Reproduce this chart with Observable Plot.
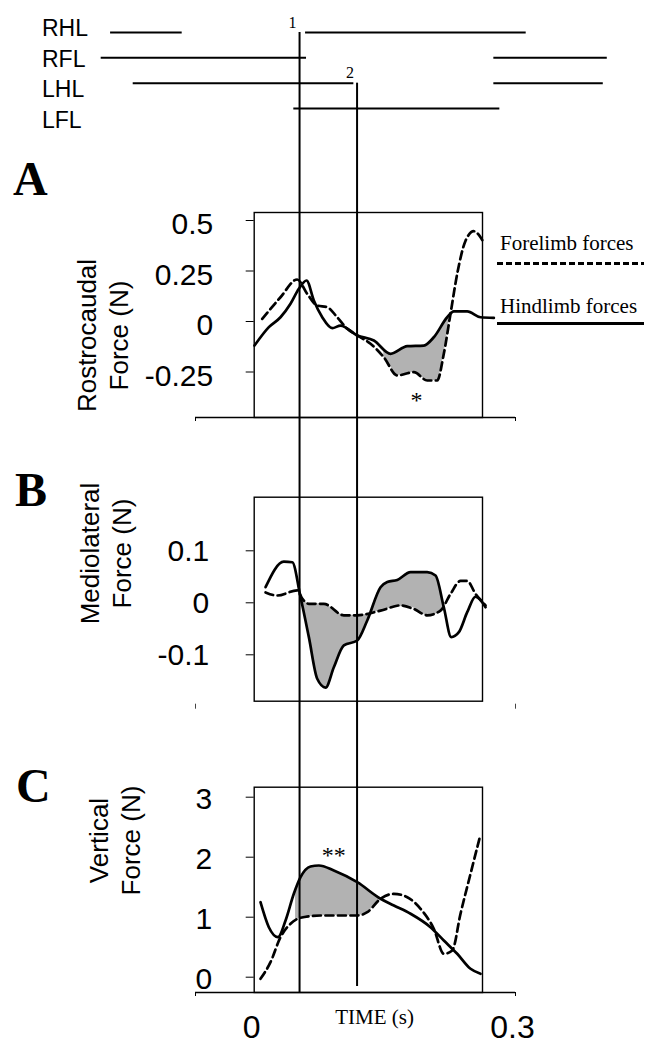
<!DOCTYPE html>
<html>
<head>
<meta charset="utf-8">
<script src="https://cdn.jsdelivr.net/npm/d3@7"></script>
<script src="https://cdn.jsdelivr.net/npm/@observablehq/plot@0.6"></script>
<style>
  html, body { margin: 0; padding: 0; background: #fff; }
  #fig { position: relative; width: 656px; height: 1050px; overflow: hidden; background: #fff; }
  #fig > svg { position: absolute; left: 0; }
  .letter { position: absolute; font-family: "Liberation Serif", "Times New Roman", serif; font-weight: bold; font-size: 48px; line-height: 48px; }
  .limbs { position: absolute; left: 42px; top: 13px; font-family: "Liberation Sans", Arial, sans-serif; font-size: 23px; line-height: 30.5px; }
  .legtext { position: absolute; font-family: "Liberation Serif", "Times New Roman", serif; font-size: 21px; line-height: 24px; white-space: nowrap; }
  .legsolid { position: absolute; height: 2.6px; background: #000; }
  .legdash { position: absolute; height: 2.6px; background: repeating-linear-gradient(to right, #000 0 6px, transparent 6px 9px); }
</style>
</head>
<body>
<div id="fig"></div>
<script>
// ---------------- DATA ----------------
// Footfall (stance) diagram
const limbs = ["RHL", "RFL", "LHL", "LFL"];
const stanceLimb  = ["RHL", "RHL", "RFL", "RFL", "LHL", "LHL", "LFL"];
const stanceStart = [-0.162, 0.0621, -0.1728, 0.2785, -0.136, 0.2785, 0.0486];
const stanceEnd   = [-0.0797, 0.3157, 0.0632, 0.4089, 0.1176, 0.4043, 0.2854];

// Event markers (time, s)
const eventTimes  = [0.0552, 0.1213];
const eventLabels = ["1", "2"];
const eventLimb   = ["RHL", "LHL"];

// Panel A: rostrocaudal force (N)
const hindTimeA  = [0.0034, 0.0199, 0.0333, 0.0448, 0.0544, 0.0632, 0.0716, 0.0813, 0.0928, 0.1023, 0.1215, 0.1406, 0.1598, 0.179, 0.198, 0.2095, 0.2249, 0.2325, 0.2479, 0.2632, 0.2785];
const hindForceA = [-0.119, -0.028, 0.021, 0.088, 0.162, 0.203, 0.104, 0.021, -0.033, -0.020, -0.069, -0.094, -0.16, -0.122, -0.119, -0.078, 0.021, 0.05, 0.05, 0.021, 0.018];
const foreTimeA  = [0.0123, 0.0333, 0.0525, 0.064, 0.0755, 0.087, 0.0985, 0.11, 0.1215, 0.1368, 0.1521, 0.1675, 0.1866, 0.2019, 0.2134, 0.221, 0.2287, 0.2364, 0.246, 0.2555, 0.2632, 0.267];
const foreForceA = [0.013, 0.12, 0.208, 0.137, 0.079, 0.071, 0.021, -0.036, -0.069, -0.11, -0.177, -0.267, -0.251, -0.292, -0.292, -0.16, 0.038, 0.236, 0.40, 0.447, 0.417, 0.388];
const shadeTimeA = [0.152, 0.160, 0.1675, 0.179, 0.1866, 0.198, 0.202, 0.2095, 0.2134, 0.221, 0.227];
const shadeHindA = [-0.132, -0.16, -0.145, -0.122, -0.121, -0.119, -0.108, -0.078, -0.06, -0.015, 0.03];
const shadeForeA = [-0.177, -0.224, -0.267, -0.258, -0.251, -0.282, -0.292, -0.292, -0.292, -0.16, -0.005];
const ticksA = [-0.25, 0, 0.25, 0.5];

// Panel B: mediolateral force (N)
const hindTimeB  = [0.0161, 0.0371, 0.0468, 0.0563, 0.0659, 0.0755, 0.0851, 0.0946, 0.1061, 0.1215, 0.133, 0.1483, 0.156, 0.1675, 0.1828, 0.2019, 0.2115, 0.221, 0.2295, 0.2383, 0.2479, 0.2575, 0.269];
const hindForceB = [0.030, 0.079, 0.078, 0.011, -0.066, -0.146, -0.163, -0.124, -0.082, -0.0725, -0.034, 0.030, 0.040, 0.044, 0.059, 0.059, 0.0525, -0.0085, -0.066, -0.0565, -0.018, 0.012, -0.0085];
const foreTimeB  = [0.0161, 0.0295, 0.0525, 0.0583, 0.0659, 0.0831, 0.1061, 0.1215, 0.1483, 0.1713, 0.1866, 0.2019, 0.2172, 0.2287, 0.2402, 0.2479, 0.2575, 0.269];
const foreForceB = [0.020, 0.014, 0.024, 0.008, -0.002, -0.002, -0.024, -0.024, -0.015, -0.005, -0.012, -0.024, -0.015, 0.017, 0.042, 0.042, 0.017, -0.005];
const shadeTimeB = [0.0583, 0.0659, 0.0755, 0.0851, 0.0946, 0.1061, 0.1215, 0.133, 0.1483, 0.156, 0.1675, 0.1828, 0.2019, 0.2115, 0.2195];
const shadeHindB = [0.004, -0.066, -0.146, -0.163, -0.124, -0.082, -0.0725, -0.034, 0.030, 0.040, 0.044, 0.059, 0.059, 0.0525, 0.001];
const shadeForeB = [0.008, -0.002, -0.002, -0.004, -0.012, -0.024, -0.024, -0.022, -0.015, -0.012, -0.007, -0.008, -0.024, -0.022, -0.01];
const ticksB = [-0.1, 0, 0.1];

// Panel C: vertical force (N)
const hindTimeC  = [0.0103, 0.0199, 0.0303, 0.0391, 0.0486, 0.0563, 0.0678, 0.0774, 0.0946, 0.1215, 0.1483, 0.1636, 0.1828, 0.2057, 0.221, 0.2364, 0.2517, 0.2632];
const hindForceC = [1.25, 0.833, 0.667, 0.945, 1.39, 1.667, 1.845, 1.862, 1.778, 1.583, 1.307, 1.195, 1.057, 0.833, 0.612, 0.39, 0.14, 0.057];
const foreTimeC  = [0.0103, 0.0218, 0.0333, 0.0448, 0.0563, 0.0793, 0.1023, 0.1215, 0.133, 0.1483, 0.1636, 0.179, 0.1943, 0.2095, 0.221, 0.2307, 0.2402, 0.2517, 0.2624];
const foreForceC = [-0.027, 0.25, 0.667, 0.89, 0.99, 1.028, 1.028, 1.028, 1.083, 1.307, 1.39, 1.333, 1.14, 0.807, 0.39, 0.445, 1.057, 1.723, 2.333];
const shadeTimeC = [0.0506, 0.0563, 0.0678, 0.0774, 0.0946, 0.1085, 0.1215, 0.133, 0.146];
const shadeHindC = [1.46, 1.667, 1.845, 1.862, 1.778, 1.69, 1.583, 1.46, 1.33];
const shadeForeC = [0.95, 0.99, 1.01, 1.028, 1.028, 1.028, 1.028, 1.083, 1.28];
const ticksC = [0, 1, 2, 3];
const timeTickLabels = [0, 0.3];

// Significance annotations
const starText = ["*", "**"];
const starTime = [0.1897, 0.0946];
const starForce = [-0.358, 2.14];

// ---------------- LAYOUT / STYLE ----------------
const W = 656;
const xDomain = [-0.0644, 0.3034];
const xRange = [195, 515];
const frameLeft = 253.7, frameRight = 482;
const GRAY = "#b2b2b2";
const SANS = '"Liberation Sans", Arial, sans-serif';
const SERIF = '"Liberation Serif", "Times New Roman", serif';
const curve = "monotone-x";
const base = {fontFamily: SANS, overflow: "visible", background: "transparent", color: "#000"};
const fmt = d => String(d);
const inv = (domain, range) => d3.scaleLinear().domain(domain).range(range).invert;
const fig = document.getElementById("fig");
const place = (svg, top) => { svg.style.top = top + "px"; fig.appendChild(svg); };

// ---------------- GAIT DIAGRAM ----------------
const gaitH = 150;
const gaitY = {domain: [0, 3], range: [32, 108]};
const gaitInv = inv(gaitY.domain, gaitY.range);
const limbIndex = l => limbs.indexOf(l);
place(Plot.plot({
  width: W, height: gaitH, margin: 0,
  x: {domain: xDomain, range: xRange, axis: null},
  y: {...gaitY, axis: null},
  style: base,
  marks: [
    Plot.ruleY(stanceLimb, {y: limbIndex, x1: stanceStart, x2: stanceEnd, strokeWidth: 2}),
    Plot.ruleX(eventTimes, {x: d => d, y1: eventLimb.map(limbIndex), y2: gaitInv(gaitH), strokeWidth: 2}),
    Plot.text(eventLabels, {x: eventTimes, y: eventLimb.map(limbIndex), text: d => d, dx: -7, dy: -10, fontFamily: SERIF, fontSize: 16})
  ]
}), 0);

// ---------------- PANEL A ----------------
{
  const h = 290, mt = 62, mb = 23;
  const yS = {domain: [-0.25, 0.5], range: [221.5, 70]};
  const iy = inv(yS.domain, yS.range);
  place(Plot.plot({
    width: W, height: h, marginLeft: frameLeft, marginRight: W - frameRight, marginTop: mt, marginBottom: mb,
    x: {domain: xDomain, range: xRange},
    y: yS,
    style: base,
    marks: [
      Plot.areaY(shadeTimeA, {x: shadeTimeA, y1: shadeForeA, y2: shadeHindA, fill: GRAY, curve}),
      Plot.frame({stroke: "#000", strokeWidth: 1.4}),
      Plot.line(foreTimeA, {x: foreTimeA, y: foreForceA, strokeWidth: 2.7, strokeDasharray: "8,4.5", curve}),
      Plot.line(hindTimeA, {x: hindTimeA, y: hindForceA, strokeWidth: 2.7, curve}),
      Plot.ruleX(eventTimes, {x: d => d, y1: iy(0), y2: iy(h), strokeWidth: 2}),
      Plot.axisY({ticks: ticksA, tickSize: 8, tickFormat: () => "", label: null}),
      Plot.axisY({ticks: ticksA, tickSize: 0, tickPadding: 41, tickFormat: fmt, fontSize: 30, dy: 4, label: null}),
      Plot.ruleY([iy(h - mb)], {x1: xDomain[0], x2: xDomain[1], strokeWidth: 1.4}),
      Plot.axisX({ticks: xDomain, tickSize: 4, tickFormat: () => "", label: null}),
      Plot.text(["Rostrocaudal\nForce (N)"], {frameAnchor: "left", textAnchor: "middle", lineAnchor: "middle", rotate: -90, dx: 101.5 - frameLeft, dy: 185 - (mt + h - mb) / 2, fontSize: 26, lineHeight: 1.23}),
      Plot.text([starText[0]], {x: [starTime[0]], y: [starForce[0]], text: d => d, fontFamily: SERIF, fontSize: 24, dy: 6})
    ]
  }), 150);
}

// ---------------- PANEL B ----------------
{
  const h = 290, mt = 56.7, mb = 29.3;
  const yS = {domain: [-0.1, 0.1], range: [214.3, 110.3]};
  const iy = inv(yS.domain, yS.range);
  place(Plot.plot({
    width: W, height: h, marginLeft: frameLeft, marginRight: W - frameRight, marginTop: mt, marginBottom: mb,
    x: {domain: xDomain, range: xRange},
    y: yS,
    style: base,
    marks: [
      Plot.areaY(shadeTimeB, {x: shadeTimeB, y1: shadeForeB, y2: shadeHindB, fill: GRAY, curve}),
      Plot.frame({stroke: "#000", strokeWidth: 1.4}),
      Plot.line(foreTimeB, {x: foreTimeB, y: foreForceB, strokeWidth: 2.7, strokeDasharray: "8,4.5", curve}),
      Plot.line(hindTimeB, {x: hindTimeB, y: hindForceB, strokeWidth: 2.7, curve}),
      Plot.ruleX(eventTimes, {x: d => d, y1: iy(0), y2: iy(h), strokeWidth: 2}),
      Plot.axisY({ticks: ticksB, tickSize: 8, tickFormat: () => "", label: null}),
      Plot.axisY({ticks: ticksB, tickSize: 0, tickPadding: 45, tickFormat: fmt, fontSize: 30, dy: 1, label: null}),
      Plot.axisX({ticks: xDomain, tickSize: 5, tickFormat: () => "", label: null, dy: 3, stroke: "#444"}),
      Plot.text(["Mediolateral\nForce (N)"], {frameAnchor: "left", textAnchor: "middle", lineAnchor: "middle", rotate: -90, dx: 104 - frameLeft, dy: 113 - (mt + h - mb) / 2, fontSize: 26, lineHeight: 1.23})
    ]
  }), 440);
}

// ---------------- PANEL C ----------------
{
  const h = 320, mt = 56.7, mb = 58;
  const yS = {domain: [0, 3], range: [246.7, 66.7]};
  const iy = inv(yS.domain, yS.range);
  const bottom = h - mb;
  const eventEndOffset = [1, -6];
  place(Plot.plot({
    width: W, height: h, marginLeft: frameLeft, marginRight: W - frameRight, marginTop: mt, marginBottom: mb,
    x: {domain: xDomain, range: xRange},
    y: yS,
    style: base,
    marks: [
      Plot.areaY(shadeTimeC, {x: shadeTimeC, y1: shadeForeC, y2: shadeHindC, fill: GRAY, curve}),
      Plot.frame({stroke: "#000", strokeWidth: 1.4}),
      Plot.line(foreTimeC, {x: foreTimeC, y: foreForceC, strokeWidth: 2.7, strokeDasharray: "8,4.5", curve}),
      Plot.line(hindTimeC, {x: hindTimeC, y: hindForceC, strokeWidth: 2.7, curve}),
      Plot.ruleX(eventTimes, {x: d => d, y1: iy(0), y2: eventEndOffset.map(o => iy(bottom + o)), strokeWidth: 2}),
      Plot.axisY({ticks: ticksC, tickSize: 8, tickFormat: () => "", label: null}),
      Plot.axisY({ticks: ticksC, tickSize: 0, tickPadding: 42, tickFormat: fmt, fontSize: 30, dy: 2, label: null}),
      Plot.ruleY([iy(bottom)], {x1: xDomain[0], x2: xDomain[1], strokeWidth: 1.4}),
      Plot.axisX({ticks: xDomain, tickSize: 4, tickFormat: () => "", label: null}),
      Plot.axisX({ticks: timeTickLabels, tickSize: 0, tickPadding: 23, tickFormat: fmt, fontSize: 32, label: null}),
      Plot.text(["TIME (s)"], {frameAnchor: "bottom", lineAnchor: "middle", textAnchor: "middle", dx: 374 - (frameLeft + frameRight) / 2, dy: 25, fontFamily: SERIF, fontSize: 21}),
      Plot.text(["Vertical\nForce (N)"], {frameAnchor: "left", textAnchor: "middle", lineAnchor: "middle", rotate: -90, dx: 113 - frameLeft, dy: (840 - 730) - (mt + h - mb) / 2, fontSize: 26, lineHeight: 1.23}),
      Plot.text([starText[1]], {x: [starTime[1]], y: [starForce[1]], text: d => d, fontFamily: SERIF, fontSize: 24, dy: 7})
    ]
  }), 730);
}

// ---------------- LABELS & LEGEND ----------------
const addDiv = (cls, html, css) => { const d = document.createElement("div"); d.className = cls; d.innerHTML = html; Object.assign(d.style, css || {}); fig.appendChild(d); };
addDiv("limbs", limbs.join("<br>"));
addDiv("letter", "A", {left: "13px", top: "155px"});
addDiv("letter", "B", {left: "15px", top: "466px"});
addDiv("letter", "C", {left: "16px", top: "762px"});
addDiv("legtext", "Forelimb forces", {left: "500px", top: "231px"});
addDiv("legdash", "", {left: "497px", top: "262px", width: "147px"});
addDiv("legtext", "Hindlimb forces", {left: "500px", top: "294px"});
addDiv("legsolid", "", {left: "497px", top: "322px", width: "147px"});
</script>
</body>
</html>
